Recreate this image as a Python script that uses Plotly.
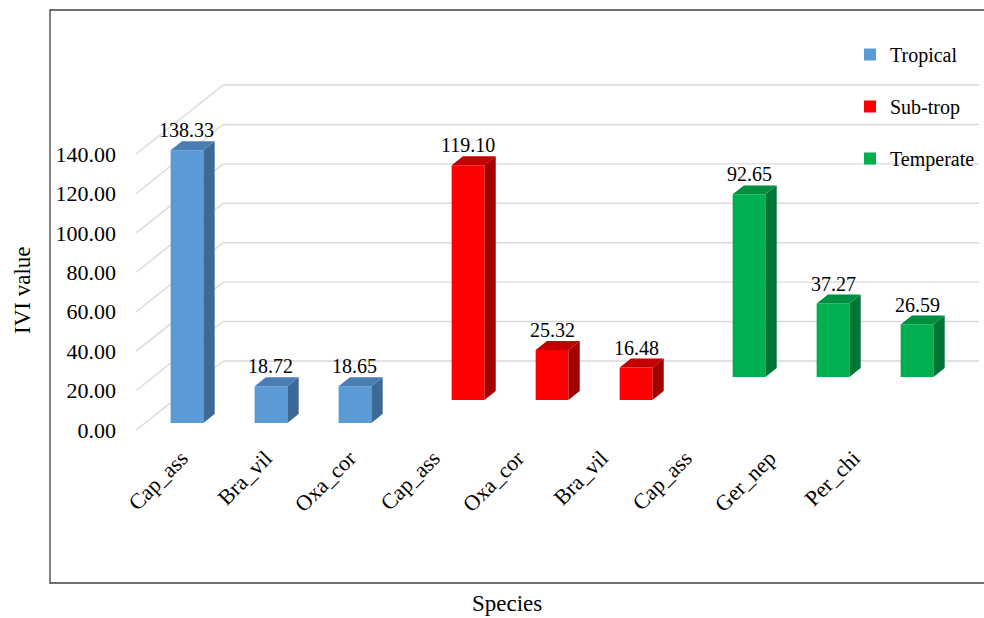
import plotly.graph_objects as go

# ---- data ----
categories = ["Cap_ass", "Bra_vil", "Oxa_cor", "Cap_ass", "Oxa_cor",
              "Bra_vil", "Cap_ass", "Ger_nep", "Per_chi"]
series_names = ["Tropical", "Sub-trop", "Temperate"]
tropical = [138.33, 18.72, 18.65]
sub_trop = [119.10, 25.32, 16.48]
temperate = [92.65, 37.27, 26.59]
series_values = [tropical, sub_trop, temperate]
series_cats = [[0, 1, 2], [3, 4, 5], [6, 7, 8]]
y_ticks = [0, 20, 40, 60, 80, 100, 120, 140]

# ---- styling ----
front_colors = ["#5B9BD5", "#FF0000", "#00B050"]
side_colors = ["#3D6A95", "#A30000", "#007636"]
top_colors = ["#4A7EB2", "#C30000", "#008F3F"]
grid_color = "#D9D9D9"
FONT = "Liberation Serif, Times New Roman, serif"

W, H = 984, 618
PX_CAT = 84.0            # pixels per category
PX_UNIT = 276.0 / 140.0  # pixels per value unit
X0 = 178.2               # screen x of category 0 on the front plane
Y0 = 430.0               # screen y of value 0 on the front plane
DX = 87.0 / PX_CAT       # full-depth shift, category units
DY = 69.0 / PX_UNIT      # full-depth shift, value units
row_depth = [0.101, 0.435, 0.768]   # depth of each series row
box_depth = 0.13                    # thickness of a bar
bar_w = 0.39

plot_l, plot_r, plot_t, plot_b = 120, 984, 10, 440
x_range = [(plot_l - X0) / PX_CAT, (plot_r - X0) / PX_CAT]
y_range = [(Y0 - plot_b) / PX_UNIT, (Y0 - plot_t) / PX_UNIT]


def pxx(px):
    return (px - plot_l) / (plot_r - plot_l)


def pxy(py):
    return (plot_b - py) / (plot_b - plot_t)


fig = go.Figure()

# ---- walls: back wall gridlines and left side wall diagonals ----
x_left = -0.5
x_right = len(categories) - 0.5
shapes = []
for v in y_ticks:
    shapes.append(dict(type="line", xref="x", yref="y", layer="below",
                       x0=x_left, y0=v, x1=x_left + DX, y1=v + DY,
                       line=dict(color=grid_color, width=1.4)))
    shapes.append(dict(type="line", xref="x", yref="y", layer="below",
                       x0=x_left + DX, y0=v + DY, x1=x_right + DX, y1=v + DY,
                       line=dict(color=grid_color, width=1.4)))

# outer frame (its right side runs past the page edge)
shapes.append(dict(type="rect", xref="paper", yref="paper",
                   x0=pxx(50), y0=pxy(583), x1=pxx(1010), y1=pxy(10),
                   line=dict(color="#404040", width=1.3), fillcolor="rgba(0,0,0,0)"))

annotations = []

# ---- 3D bars ----
dxb = DX * box_depth
dyb = DY * box_depth
for s, name in enumerate(series_names):
    z = row_depth[s]
    vals = series_values[s]
    xf = [c + DX * z for c in series_cats[s]]
    base = DY * z
    # front faces
    fig.add_trace(go.Bar(
        x=xf, y=vals, base=[base] * len(vals), width=bar_w,
        marker=dict(color=front_colors[s], line=dict(width=0)),
        name=name, legendgroup=name, hoverinfo="skip"))
    # side and top faces
    sx, sy, tx, ty = [], [], [], []
    for x, v in zip(xf, vals):
        xl, xr = x - bar_w / 2, x + bar_w / 2
        top = base + v
        sx += [xr, xr + dxb, xr + dxb, xr, xr, None]
        sy += [base, base + dyb, top + dyb, top, base, None]
        tx += [xl, xr, xr + dxb, xl + dxb, xl, None]
        ty += [top, top, top + dyb, top + dyb, top, None]
        annotations.append(dict(
            x=x, y=top + dyb, xref="x", yref="y", text=f"{v:.2f}",
            showarrow=False, yanchor="bottom", xanchor="center", yshift=-2,
            font=dict(family=FONT, size=20, color="#000000")))
    fig.add_trace(go.Scatter(x=sx, y=sy, mode="lines", fill="toself",
                             fillcolor=side_colors[s], line=dict(width=0),
                             showlegend=False, hoverinfo="skip"))
    fig.add_trace(go.Scatter(x=tx, y=ty, mode="lines", fill="toself",
                             fillcolor=top_colors[s], line=dict(width=0),
                             showlegend=False, hoverinfo="skip"))

# ---- axis titles ----
annotations.append(dict(text="IVI value", xref="paper", yref="paper",
                        x=pxx(22), y=pxy(290), showarrow=False, textangle=-90,
                        xanchor="center", yanchor="middle",
                        font=dict(family=FONT, size=23, color="#000000")))
annotations.append(dict(text="Species", xref="paper", yref="paper",
                        x=pxx(507), y=pxy(603), showarrow=False,
                        xanchor="center", yanchor="middle",
                        font=dict(family=FONT, size=23, color="#000000")))

fig.update_layout(
    width=W, height=H,
    margin=dict(l=plot_l, r=W - plot_r, t=plot_t, b=H - plot_b),
    paper_bgcolor="white", plot_bgcolor="white",
    barmode="overlay",
    showlegend=True,
    legend=dict(x=pxx(850), y=pxy(35), xanchor="left", yanchor="top",
                bgcolor="rgba(0,0,0,0)", tracegroupgap=23,
                font=dict(family=FONT, size=20, color="#000000")),
    xaxis=dict(range=x_range, tickvals=[c + 0.04 for c in range(len(categories))],
               ticktext=categories, tickangle=-45, showgrid=False,
               zeroline=False, showline=False, ticks="",
               tickfont=dict(family=FONT, size=22, color="#000000")),
    yaxis=dict(range=y_range, tickvals=y_ticks,
               ticktext=[f"{v:.2f}" for v in y_ticks], showgrid=False,
               zeroline=False, showline=False, ticks="", ticklabelstandoff=3,
               tickfont=dict(family=FONT, size=22, color="#000000")),
    shapes=shapes,
    annotations=annotations,
)

fig.write_html("out.html")
